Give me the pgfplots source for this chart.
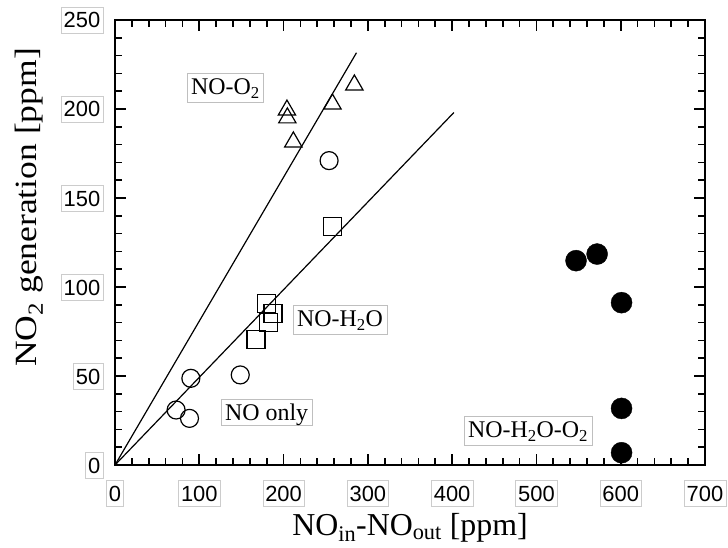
\documentclass[border=0pt]{standalone}
\usepackage{pgfplots}
\pgfplotsset{compat=1.18}
\usepackage{fontspec}
\setmainfont{Liberation Serif}
\newfontfamily\arial{Liberation Sans}
\newcommand{\tl}{\arial\fontsize{22}{24}\selectfont}
\tikzset{lab/.style={draw=gray!50, line width=0.6bp, fill=white, font=\fontsize{24}{24}\selectfont,
   inner xsep=4bp, inner ysep=4bp, text height=17bp, text depth=4bp}}
\begin{document}
\begin{tikzpicture}
\begin{axis}[
  name=ax,
  scale only axis,
  width=590bp, height=445bp,
  xmin=0, xmax=700, ymin=0, ymax=250,
  xtick={0,100,...,700}, ytick={0,50,...,250},
  minor x tick num=4, minor y tick num=4,
  tick align=inside,
  xtick pos=both, ytick pos=both,
  xticklabel pos=lower, yticklabel pos=left,
  major tick length=11bp, minor tick length=7bp,
  axis line style={line width=1.6bp},
  major tick style={line width=1.7bp, black},
  minor tick style={line width=1.7bp, black},
  xticklabel={\tl\pgfmathprintnumber[assume math mode=true]{\tick}},
  yticklabel={\tl\pgfmathprintnumber[assume math mode=true]{\tick}},
  tick label style={draw=gray!40, line width=0.5bp,
     inner xsep=2.5bp, inner ysep=5bp, text height=16bp, text depth=0bp},
  xticklabel style={anchor=north, yshift=-15bp},
  yticklabel style={anchor=east, xshift=-12bp},
  clip=false,
]
% fitted lines
\addplot[black, line width=1.2bp] coordinates {(0,0) (286.5,231.6)};
\addplot[black, line width=1.2bp] coordinates {(0,0) (402,198)};
% NO-O2 (triangles)
\addplot[only marks, mark=triangle, mark size=10bp, mark options={line width=1.2bp, black}] coordinates {
 (204,199.4) (204.5,195) (211.6,181.5) (258,202.8) (284,213.5)};
% NO only (open circles)
\addplot[only marks, mark=o, mark size=9bp, mark options={line width=1.2bp, black}] coordinates {
 (254,171) (90,48.7) (72.5,30.9) (88.4,26.2) (148.6,50.6)};
% NO-H2O (squares)
\addplot[only marks, mark=square, mark size=9bp, mark options={line width=1.2bp, black}] coordinates {
 (258.4,133.9) (179.5,90.8) (187.5,85.2) (182.3,80) (167.3,70.6)};
% NO-H2O-O2 (filled circles)
\addplot[only marks, mark=*, mark size=10.5bp, mark options={black, fill=black}] coordinates {
 (547,114.8) (572,118.5) (601,91.2) (601,31.8) (601,6.9)};
\end{axis}
\node[lab] at ([shift={(110.4bp,377.0bp)}]ax.south west) {NO-O\textsubscript{2}};
\node[lab] at ([shift={(225.0bp,145.1bp)}]ax.south west) {NO-H\textsubscript{2}O};
\node[lab, text depth=1bp] at ([shift={(151.7bp,53.0bp)}]ax.south west) {NO only};
\node[lab] at ([shift={(413.0bp,34.0bp)}]ax.south west) {NO-H\textsubscript{2}O-O\textsubscript{2}};
\node[anchor=base, font=\fontsize{32}{32}\selectfont] at ([shift={(0bp,-70bp)}]ax.south)
  {NO\textsubscript{in}-NO\textsubscript{out} [ppm]};
\node[rotate=90, anchor=base, font=\fontsize{31}{31}\selectfont] at ([shift={(-78bp,35bp)}]ax.west)
  {\scalebox{1.15}[1]{NO\textsubscript{2} generation [ppm]}};
\path ([shift={(-115bp,-82bp)}]ax.south west) rectangle ([shift={(23bp,20bp)}]ax.north east);
\end{tikzpicture}
\end{document}
